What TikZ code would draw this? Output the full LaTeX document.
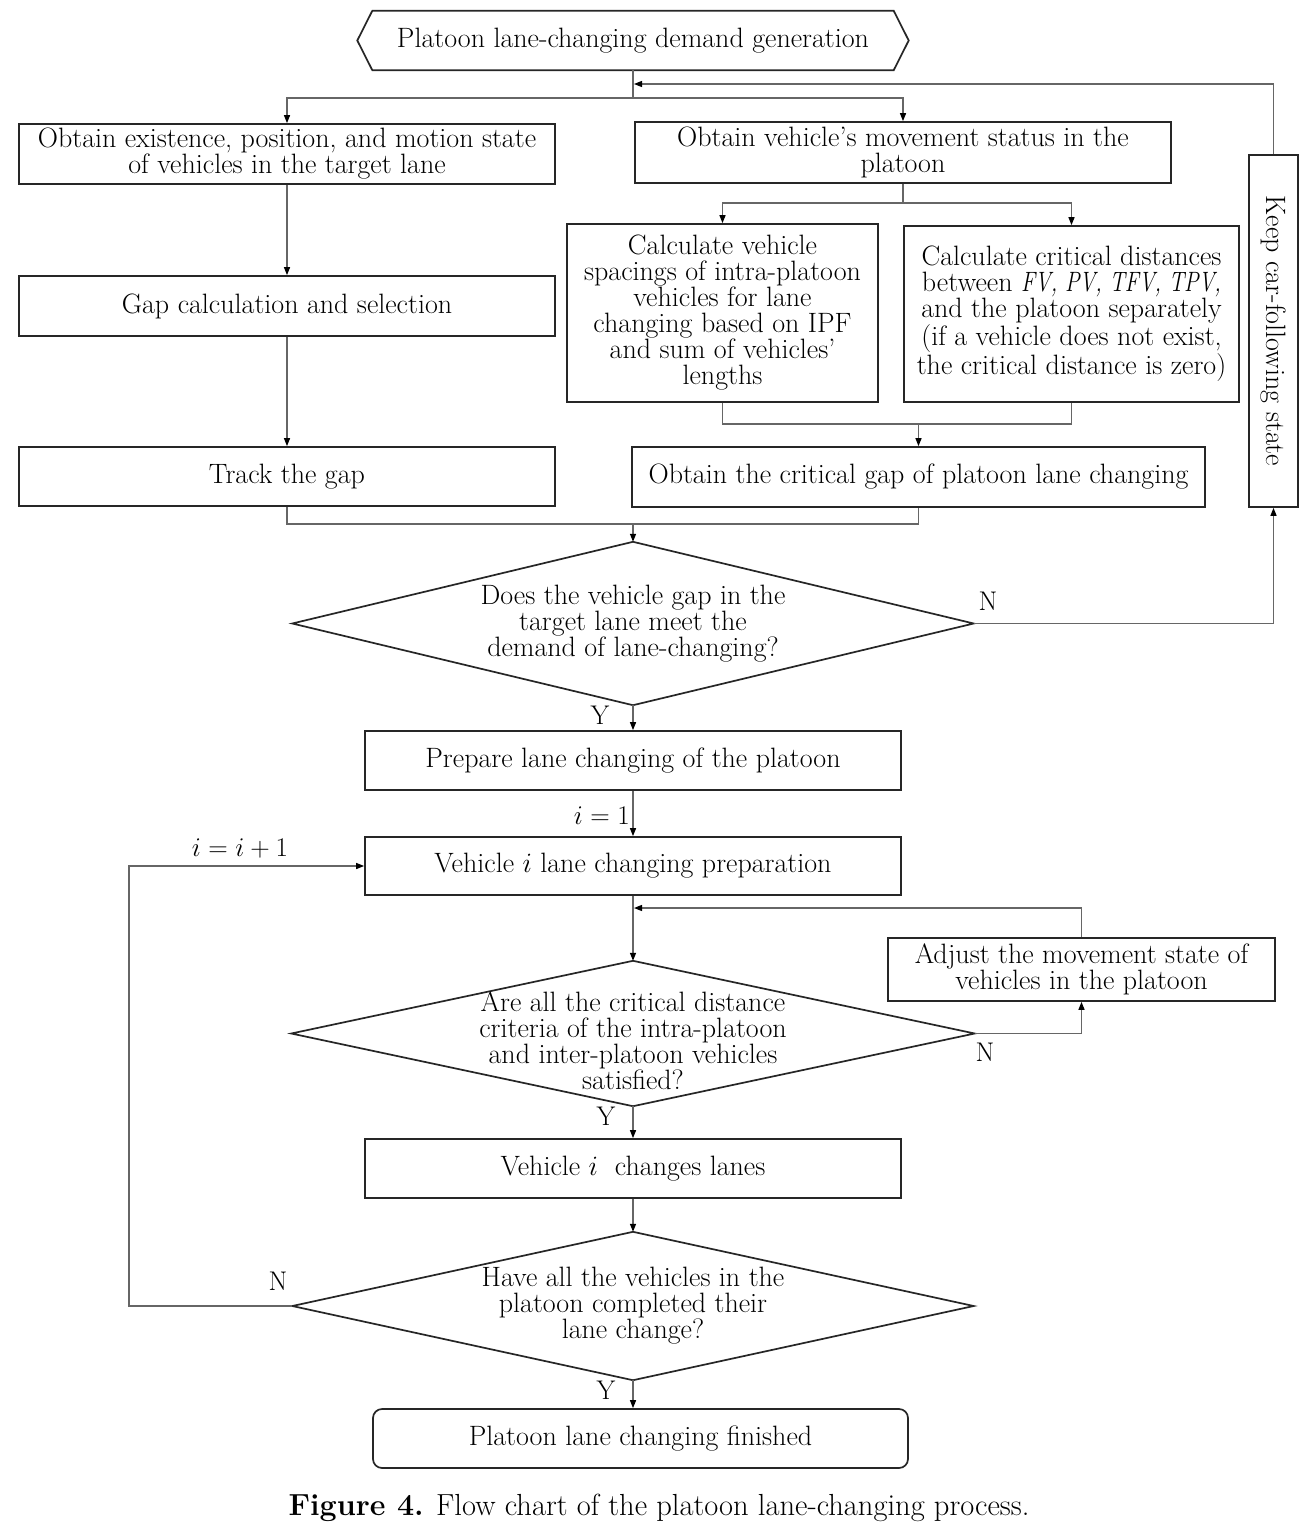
\RequirePackage{fix-cm}
\documentclass[tikz,border=0pt]{standalone}
\usetikzlibrary{arrows.meta}
\begin{document}
\begin{tikzpicture}[x=1pt,y=-1pt,
  every node/.style={font=\fontsize{28}{26}\selectfont, inner sep=0pt, align=center},
  boxline/.style={draw=black!85, line width=1.7pt},
  box/.style={boxline, rectangle},
  plain/.style={draw=none, rectangle},
  conn/.style={draw=black!60, line width=1.3pt},
  arr/.style={conn, -{Triangle[length=8pt,width=6pt,color=black]}},
  lbl/.style={font=\fontsize{27}{27}\selectfont}]
\fill[white] (0,0) rectangle (1314,1536);
\useasboundingbox (0,0) rectangle (1314,1536);

% start hexagon
\node[plain, minimum width=521, minimum height=59] (start) at (633,40.5) {Platoon lane-changing demand generation};
\draw[boxline] ([xshift=-15pt]start.west) -- (start.north west) -- (start.north east) -- ([xshift=15pt]start.east) -- (start.south east) -- (start.south west) -- cycle;

\node[box, minimum width=536, minimum height=60] (b1) at (287,154) {Obtain existence, position, and motion state\\of vehicles in the target lane};
\node[box, minimum width=536, minimum height=61] (b2) at (903,152.5) {Obtain vehicle’s movement status in the\\platoon};
\node[box, minimum width=311, minimum height=178] (b3) at (722.5,313) {Calculate vehicle\\spacings of intra-platoon\\vehicles for lane\\changing based on IPF\\and sum of vehicles’\\lengths};
\node[box, minimum width=335, minimum height=176] (b4) at (1071.5,314) {Calculate critical distances\\between \scalebox{0.78}[1]{\textit{FV, PV, TFV, TPV,}}\\and the platoon separately\\(if a vehicle does not exist,\\the critical distance is zero)};
\node[box, minimum width=536, minimum height=60] (b5) at (287,306) {Gap calculation and selection};
\node[box, minimum width=573, minimum height=60] (b6) at (918.5,477) {Obtain the critical gap of platoon lane changing};
\node[box, minimum width=536, minimum height=59] (b7) at (287,476.5) {Track the gap};
\node[box, minimum width=49, minimum height=352] (keep) at (1273.5,331) {\rotatebox{-90}{Keep car-following state}};

\node[plain, minimum width=681, minimum height=163] (d1) at (633,623.5) {Does the vehicle gap in the\\target lane meet the\\demand of lane-changing?};
\draw[boxline] (d1.north) -- (d1.east) -- (d1.south) -- (d1.west) -- cycle;

\node[box, minimum width=536, minimum height=59] (b8) at (633,760.5) {Prepare lane changing of the platoon};
\node[box, minimum width=536, minimum height=58] (b9) at (633,866) {Vehicle $i$ lane changing preparation};

\node[plain, minimum width=683, minimum height=145] (d2) at (633,1033.5) {};
\draw[boxline] (d2.north) -- (d2.east) -- (d2.south) -- (d2.west) -- cycle;
\node (d2t) at (633,1041) {Are all the critical distance\\criteria of the intra-platoon\\and inter-platoon vehicles\\satisfied?};

\node[box, minimum width=387, minimum height=63] (b10) at (1081.5,969.5) {Adjust the movement state of\\vehicles in the platoon};
\node[box, minimum width=536, minimum height=59] (b11) at (633,1168.5) {Vehicle $i$\ \ changes lanes};

\node[plain, minimum width=681, minimum height=148] (d3) at (633,1306) {Have all the vehicles in the\\platoon completed their\\lane change?};
\draw[boxline] (d3.north) -- (d3.east) -- (d3.south) -- (d3.west) -- cycle;

\node[box, rounded corners=9pt, minimum width=535, minimum height=59] (b12) at (640.5,1438.5) {Platoon lane changing finished};

% connectors
\coordinate (j1) at (633,98);
\draw[conn] (start.south) -- (j1);
\draw[arr] (j1) -| (b1.north);
\draw[arr] (j1) -| (b2.north);
\coordinate (j2) at (903,203);
\draw[conn] (b2.south) -- (j2);
\draw[arr] (j2) -| (b3.north);
\draw[arr] (j2) -| (b4.north);
\coordinate (j3) at (918.5,424);
\draw[conn] (b3.south) |- (j3) -| (b4.south);
\draw[arr] (j3) -- (b6.north);
\draw[arr] (b1.south) -- (b5.north);
\draw[arr] (b5.south) -- (b7.north);
\coordinate (j4) at (633,524);
\draw[conn] (b7.south) |- (j4) -| (b6.south);
\draw[arr] (j4) -- (d1.north);
\draw[arr] (d1.east) -| (keep.south);
\coordinate (j5) at (634,84);
\draw[arr] (keep.north) |- (j5);
\draw[arr] (d1.south) -- (b8.north);
\draw[arr] (b8.south) -- (b9.north);
\draw[arr] (b9.south) -- (d2.north);
\draw[arr] (d2.east) -| (b10.south);
\coordinate (j6) at (634,908);
\draw[arr] (b10.north) |- (j6);
\draw[arr] (d2.south) -- (b11.north);
\draw[arr] (b11.south) -- (d3.north);
\draw[arr] (d3.south) -- (d3.south |- b12.north);
\coordinate (j7) at (129,1306);
\draw[arr] (d3.west) -- (j7) |- (b9.west);

% labels
\node[lbl] (n1) at (988,601) {N};
\node[lbl] (n2) at (985,1052) {N};
\node[lbl] (n3) at (278,1281) {N};
\node[lbl] (y1) at (600,715) {Y};
\node[lbl] (y2) at (606,1116) {Y};
\node[lbl] (y3) at (606,1390) {Y};
\node[lbl, anchor=east] (i1) at (630,816) {$i=1$};
\node[lbl] (i2) at (240,848) {$i=i+1$};

\node (cap) at (659,1508) {\fontsize{30.5}{30}\selectfont\textbf{Figure 4.} Flow chart of the platoon lane-changing process.};
\end{tikzpicture}
\end{document}
